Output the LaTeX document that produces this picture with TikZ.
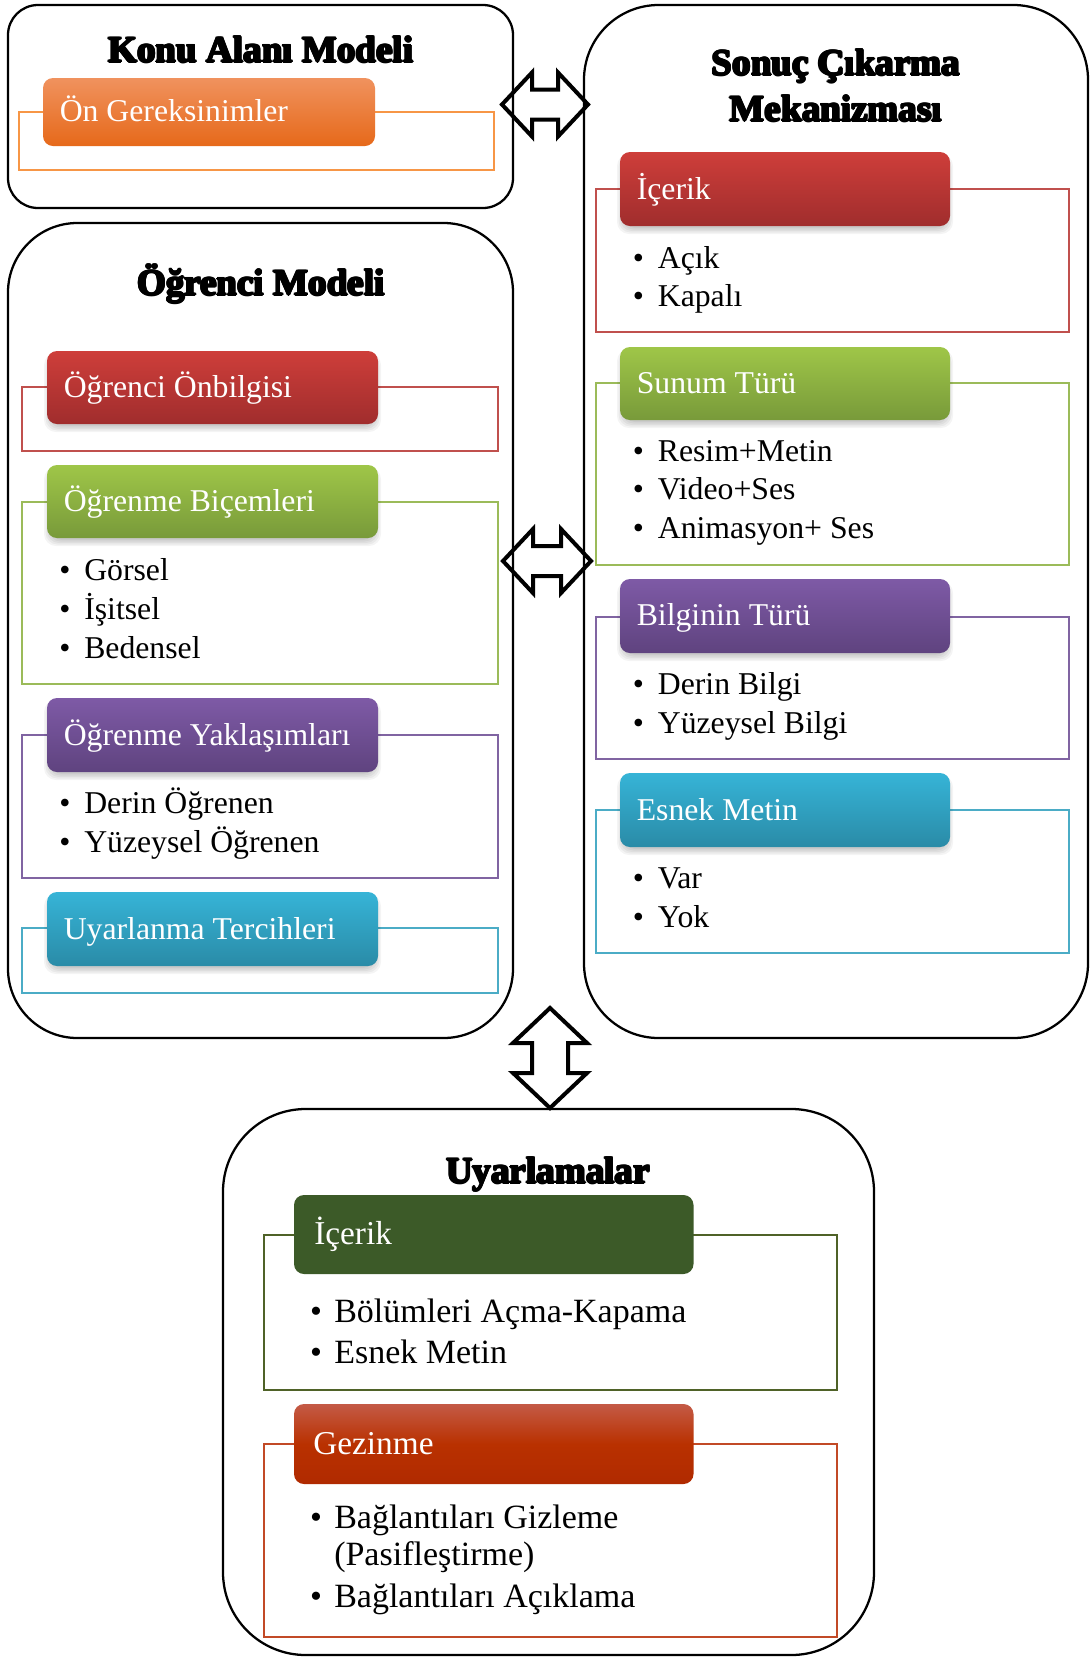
\documentclass[tikz,border=0pt]{standalone}
\usepackage{fontspec}
\setmainfont{Liberation Serif}
\usetikzlibrary{fit}

\definecolor{redF}{HTML}{C0504D}
\definecolor{redT}{HTML}{CE3E3A}
\definecolor{redB}{HTML}{A02D2D}
\definecolor{grnF}{HTML}{9BBB59}
\definecolor{grnT}{HTML}{9FC648}
\definecolor{grnB}{HTML}{789A3A}
\definecolor{purF}{HTML}{8064A2}
\definecolor{purT}{HTML}{7E5AA6}
\definecolor{purB}{HTML}{5F437F}
\definecolor{bluF}{HTML}{4BACC6}
\definecolor{bluT}{HTML}{36B4D7}
\definecolor{bluB}{HTML}{2A8BA7}
\definecolor{orgF}{HTML}{F79646}
\definecolor{orgT}{HTML}{F0925E}
\definecolor{orgB}{HTML}{E6691A}
\definecolor{dgF}{HTML}{4F6228}
\definecolor{dgT}{HTML}{3C5A28}
\definecolor{gzF}{HTML}{C24A26}
\definecolor{gzT}{HTML}{C45A46}
\definecolor{gzM}{HTML}{B93100}
\definecolor{gzB}{HTML}{B02A00}

\newcommand\bfont{\fontsize{23.8pt}{28pt}\selectfont}
\newcommand\Bfont{\fontsize{25.5pt}{30pt}\selectfont}
\newcommand\BHfont{\fontsize{25pt}{30pt}\selectfont}
\newcommand\tfont{\fontsize{27.8pt}{32pt}\selectfont\bfseries}
\newcommand\heavytxt[1]{\leavevmode
 \rlap{\kern0.75pt#1}\rlap{\kern-0.75pt#1}%
 \rlap{\raisebox{0.75pt}{#1}}\rlap{\raisebox{-0.75pt}{#1}}%
 \rlap{\kern0.55pt\raisebox{0.55pt}{#1}}\rlap{\kern-0.55pt\raisebox{-0.55pt}{#1}}%
 \rlap{\kern0.55pt\raisebox{-0.55pt}{#1}}\rlap{\kern-0.55pt\raisebox{0.55pt}{#1}}#1}

\newcommand\bitem[6][\bfont]{%
 \node[anchor=base,inner sep=0pt,font=#1] (#2b) at (#3,#5) {\textbullet};
 \node[anchor=base west,inner sep=0pt,font=#1] (#2) at (#4,#5) {#6};}

% soft shadow below a header: x1,y1,x2,y2
\newcommand\softshadow[4]{%
 \foreach \s in {0,1.5,3,4.5,6}{
  \fill[black, opacity=0.045, rounded corners=9pt]
   (#1+3-\s,#2+8-\s) rectangle (#3-3+\s,#4+2+\s);
 }}

\tikzset{
 bigbox/.style={draw=black, line width=1.7pt, inner sep=0pt, outer sep=0pt, fill=white},
 frm/.style={draw=#1, line width=1pt, inner sep=0pt, outer sep=0pt},
 hdr/.style 2 args={rounded corners=7.5pt, inner sep=0pt, outer sep=0pt, top color=#1, bottom color=#2, draw=none},
 htext/.style={anchor=base west, inner sep=0pt, text=white, font=\bfont},
 Htext/.style={anchor=base west, inner sep=0pt, text=white, font=\BHfont},
 ttext/.style={anchor=base, inner sep=0pt, font=\tfont},
 blockarrow/.style={draw=black, line width=3pt, line join=miter, miter limit=10},
}

\begin{document}
\begin{tikzpicture}[x=0.75pt, y=-0.75pt]
\useasboundingbox (0,0) rectangle (1090,1657);

% ---------- Konu Alani Modeli ----------
\node[bigbox, rounded corners=22.5pt, fit={(8,5)(513,208)}] (konu) {};
\node[ttext] (konuT) at (261,62) {\heavytxt{Konu Alanı Modeli}};
\node[frm=orgF, fit={(19,112)(494,170)}] (onF) {};
\node[hdr={orgT}{orgB}, fit={(43,78)(375,146)}] (onH) {};
\node[htext] (onX) at (59.5,121) {Ön Gereksinimler};

% ---------- Ogrenci Modeli ----------
\node[bigbox, rounded corners=52pt, fit={(8,223)(513,1038)}] (ogr) {};
\node[ttext] (ogrT) at (261,295) {\heavytxt{Öğrenci Modeli}};

\node[frm=redF, fit={(22,387)(498,451)}] (l1F) {};
\softshadow{47}{351}{378}{424}
\node[hdr={redT}{redB}, fit={(47,351)(378,424)}] (l1H) {};
\node[htext] (l1X) at (63.5,397) {Öğrenci Önbilgisi};

\node[frm=grnF, fit={(22,502)(498,684)}] (l2F) {};
\softshadow{47}{465}{378}{538}
\node[hdr={grnT}{grnB}, fit={(47,465)(378,538)}] (l2H) {};
\node[htext] (l2X) at (63.5,511) {Öğrenme Biçemleri};
\bitem{l2a}{65}{84}{580}{Görsel}
\bitem{l2b}{65}{84}{619}{İşitsel}
\bitem{l2c}{65}{84}{658}{Bedensel}

\node[frm=purF, fit={(22,735)(498,878)}] (l3F) {};
\softshadow{47}{698}{378}{772}
\node[hdr={purT}{purB}, fit={(47,698)(378,772)}] (l3H) {};
\node[htext] (l3X) at (63.5,745) {Öğrenme Yaklaşımları};
\bitem{l3a}{65}{84}{813}{Derin Öğrenen}
\bitem{l3b}{65}{84}{852}{Yüzeysel Öğrenen}

\node[frm=bluF, fit={(22,928)(498,993)}] (l4F) {};
\softshadow{47}{892}{378}{966}
\node[hdr={bluT}{bluB}, fit={(47,892)(378,966)}] (l4H) {};
\node[htext] (l4X) at (63.5,939) {Uyarlanma Tercihleri};

% ---------- Sonuc Cikarma Mekanizmasi ----------
\node[bigbox, rounded corners=56pt, fit={(584,5)(1088,1038)}] (son) {};
\node[ttext] (sonT1) at (836,75) {\heavytxt{Sonuç Çıkarma}};
\node[ttext] (sonT2) at (836,121) {\heavytxt{Mekanizması}};

\node[frm=redF, fit={(596,189)(1069,332)}] (r1F) {};
\softshadow{620}{152}{950}{226}
\node[hdr={redT}{redB}, fit={(620,152)(950,226)}] (r1H) {};
\node[htext] (r1X) at (636.5,199) {İçerik};
\bitem{r1a}{638.5}{657.6}{268}{Açık}
\bitem{r1b}{638.5}{657.6}{306}{Kapalı}

\node[frm=grnF, fit={(596,383)(1069,565)}] (r2F) {};
\softshadow{620}{347}{950}{420}
\node[hdr={grnT}{grnB}, fit={(620,347)(950,420)}] (r2H) {};
\node[htext] (r2X) at (636.5,393) {Sunum Türü};
\bitem{r2a}{638.5}{657.6}{461}{Resim+Metin}
\bitem{r2b}{638.5}{657.6}{499}{Video+Ses}
\bitem{r2c}{638.5}{657.6}{538}{Animasyon+ Ses}

\node[frm=purF, fit={(596,617)(1069,759)}] (r3F) {};
\softshadow{620}{579}{950}{653}
\node[hdr={purT}{purB}, fit={(620,579)(950,653)}] (r3H) {};
\node[htext] (r3X) at (636.5,625) {Bilginin Türü};
\bitem{r3a}{638.5}{657.6}{694}{Derin Bilgi}
\bitem{r3b}{638.5}{657.6}{733}{Yüzeysel Bilgi}

\node[frm=bluF, fit={(596,810)(1069,953)}] (r4F) {};
\softshadow{620}{773}{950}{847}
\node[hdr={bluT}{bluB}, fit={(620,773)(950,847)}] (r4H) {};
\node[htext] (r4X) at (636.5,820) {Esnek Metin};
\bitem{r4a}{638.5}{657.6}{888}{Var}
\bitem{r4b}{638.5}{657.6}{927}{Yok}

% ---------- Uyarlamalar ----------
\node[bigbox, rounded corners=62pt, fit={(223,1109)(874,1655)}] (uya) {};
\node[ttext] (uyaT) at (548,1183) {\heavytxt{Uyarlamalar}};

\node[frm=dgF, fit={(264,1235)(837,1390)}] (b1F) {};
\node[hdr={dgT}{dgT}, fit={(294,1195)(693.5,1274)}] (b1H) {};
\node[Htext] (b1X) at (314,1244) {İçerik};
\bitem[\Bfont]{b1a}{316}{334}{1322}{Bölümleri Açma-Kapama}
\bitem[\Bfont]{b1b}{316}{334}{1363}{Esnek Metin}

\node[frm=gzF, fit={(264,1444)(837,1637)}] (b2F) {};
\node[hdr={gzT}{gzB}, middle color=gzM, fit={(294,1404)(693.5,1484)}] (b2H) {};
\node[Htext] (b2X) at (313,1454) {Gezinme};
\bitem[\Bfont]{b2a}{316}{334}{1528}{Bağlantıları Gizleme}
\node[anchor=base west,inner sep=0pt,font=\Bfont] (b2a2) at (334,1565) {(Pasifleştirme)};
\bitem[\Bfont]{b2b}{316}{334}{1607}{Bağlantıları Açıklama}

% ---------- block double arrows ----------
\coordinate (a1) at (502,104.5);
\draw[blockarrow] (a1) -- ++(30,-32) -- ++(0,17) -- ++(26,0) -- ++(0,-17)
  -- ++(30,32) -- ++(-30,32) -- ++(0,-17) -- ++(-26,0) -- ++(0,17) -- cycle;
\coordinate (a2) at (503,561);
\draw[blockarrow] (a2) -- ++(30,-32) -- ++(0,17) -- ++(28,0) -- ++(0,-17)
  -- ++(30,32) -- ++(-30,32) -- ++(0,-17) -- ++(-28,0) -- ++(0,17) -- cycle;
\coordinate (a3) at (550,1008);
\draw[blockarrow] (a3) -- ++(37,35) -- ++(-19,0) -- ++(0,30) -- ++(19,0)
  -- ++(-37,35) -- ++(-37,-35) -- ++(19,0) -- ++(0,-30) -- ++(-19,0) -- cycle;
\end{tikzpicture}
\end{document}
